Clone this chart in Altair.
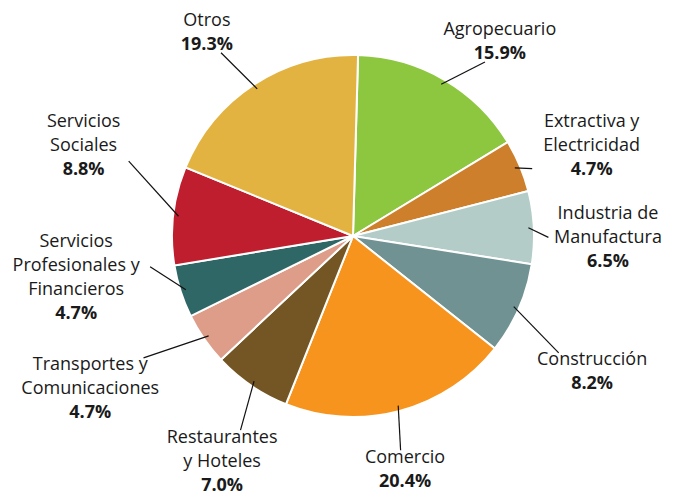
import math
import altair as alt
import pandas as pd

sectors = ["Agropecuario", "Extractiva y Electricidad", "Industria de Manufactura",
           "Construcción", "Comercio", "Restaurantes y Hoteles",
           "Transportes y Comunicaciones", "Servicios Profesionales y Financieros",
           "Servicios Sociales", "Otros"]
labels = ["Agropecuario", "Extractiva y\nElectricidad", "Industria de\nManufactura",
          "Construcción", "Comercio", "Restaurantes\ny Hoteles",
          "Transportes y\nComunicaciones", "Servicios\nProfesionales y\nFinancieros",
          "Servicios\nSociales", "Otros"]
values = [15.9, 4.7, 6.5, 8.2, 20.4, 7.0, 4.7, 4.7, 8.8, 19.3]
colors = ["#8DC63F", "#CD7F2B", "#B3CCC8", "#719292", "#F7941E", "#735624",
          "#DD9D89", "#2F6666", "#BE1E2D", "#E3B342"]

# label layout (angle shift from slice middle, degrees; distance from centre, px)
label_shift = [7.0, 2.2, 3.1, 5.9, 2.4, -4.2, 4.5, 9.2, 12.0, -2.7]
label_dist = [243, 255, 255, 275, 240, 261, 304, 280, 284, 250]

R = 181
CX, CY = 345, 228
OFF = 0.028
LH = 24
FS = 18

df = pd.DataFrame({
    "sector": sectors,
    "label": labels,
    "value": values,
    "pct": [f"{v:.1f}%" for v in values],
    "order": list(range(len(values))),
    "nlines": [l.count("\n") + 1 for l in labels],
    "maxchars": [max(len(s) for s in l.split("\n")) for l in labels],
    "shift": label_shift,
    "dist": label_dist,
})

base = (
    alt.Chart(df)
    .transform_joinaggregate(total="sum(value)")
    .transform_window(cum="sum(value)", sort=[alt.SortField("order")], frame=[None, 0])
    .transform_calculate(mid=f"{OFF} + 2*PI*(datum.cum - datum.value/2)/datum.total")
    .transform_calculate(la="datum.mid + datum.shift*PI/180")
    .transform_calculate(x0=f"{CX} + {R*0.97}*sin(datum.mid)")
    .transform_calculate(y0=f"{CY} - {R*0.97}*cos(datum.mid)")
    .transform_calculate(bx=f"{CX} + datum.dist*sin(datum.la)")
    .transform_calculate(by=f"{CY} - datum.dist*cos(datum.la)")
    .transform_calculate(hw="datum.maxchars*4.8")
    .transform_calculate(hh=f"(datum.nlines + 1)*{LH/2} - 6")
    .transform_calculate(ux=f"({CX} - datum.bx)/datum.dist")
    .transform_calculate(uy=f"({CY} - datum.by)/datum.dist")
    .transform_calculate(t="min(datum.hw/max(abs(datum.ux), 0.001), datum.hh/max(abs(datum.uy), 0.001)) + 2")
    .transform_calculate(x1="datum.bx + datum.ux*datum.t")
    .transform_calculate(y1="datum.by + datum.uy*datum.t")
    .transform_calculate(ny=f"datum.by - datum.nlines*{LH/2}")
    .transform_calculate(py=f"datum.by + datum.nlines*{LH/2}")
)

pie = alt.Chart(df).mark_arc(outerRadius=R, stroke="white", strokeWidth=2).encode(
    theta=alt.Theta("value:Q", stack=True,
                    scale=alt.Scale(range=[OFF, OFF + 2 * math.pi])),
    color=alt.Color("sector:N", scale=alt.Scale(domain=sectors, range=colors), legend=None),
    order=alt.Order("order:Q"),
    x=alt.value(CX),
    y=alt.value(CY),
)

lines = base.mark_rule(color="#111111", strokeWidth=1.2).encode(
    x=alt.X("x0:Q", scale=None),
    y=alt.Y("y0:Q", scale=None),
    x2="x1:Q",
    y2="y1:Q",
)

names = base.mark_text(font="Open Sans", fontSize=FS, color="#1a1a1a",
                       align="center", baseline="middle",
                       lineBreak="\n", lineHeight=LH).encode(
    x=alt.X("bx:Q", scale=None),
    y=alt.Y("ny:Q", scale=None),
    text="label:N",
)

pcts = base.mark_text(font="Open Sans", fontSize=FS, fontWeight="bold", color="#1a1a1a",
                      align="center", baseline="middle").encode(
    x=alt.X("bx:Q", scale=None),
    y=alt.Y("py:Q", scale=None),
    text="pct:N",
)

chart = (
    alt.layer(pie, lines, names, pcts)
    .properties(width=657, height=487, padding=0, autosize=alt.AutoSizeParams(type="none"))
    .configure_view(stroke=None)
)

chart.save("out.html", embed_options={"renderer": "svg", "actions": False})
